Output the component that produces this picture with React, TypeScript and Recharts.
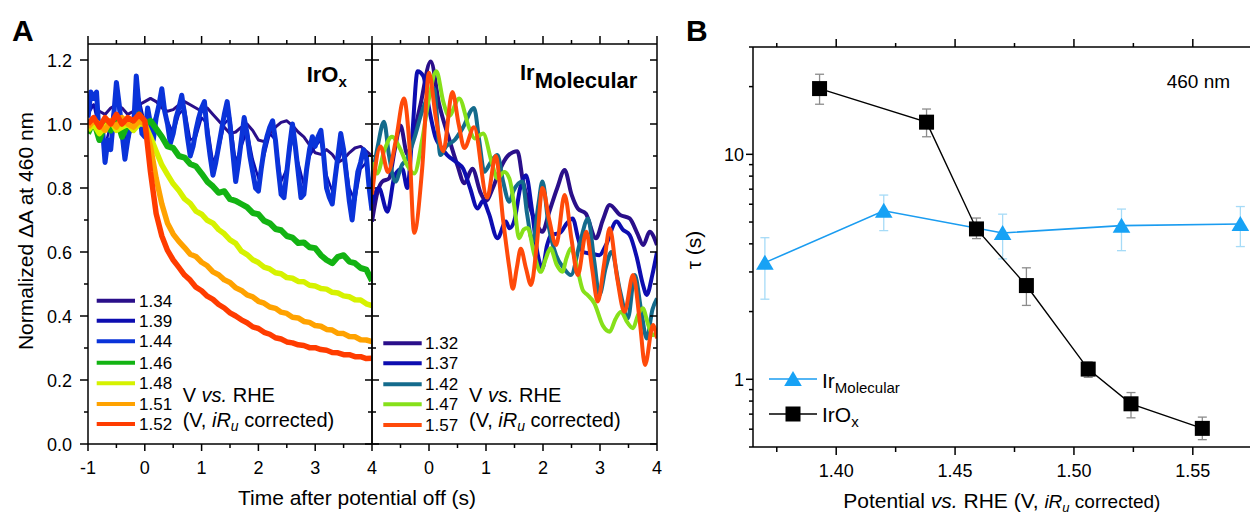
import React from 'react';
import { LineChart, Line, XAxis, YAxis, ScatterChart, Scatter, ErrorBar } from 'recharts';

// ---------- Panel A: time grids (s) ----------
const T10 = [-1, -0.9, -0.8, -0.7, -0.6, -0.5, -0.4, -0.3, -0.2, -0.1, 0, 0.1, 0.2, 0.3, 0.4, 0.5, 0.6, 0.7, 0.8, 0.9, 1, 1.1, 1.2, 1.3, 1.4, 1.5, 1.6, 1.7, 1.8, 1.9, 2, 2.1, 2.2, 2.3, 2.4, 2.5, 2.6, 2.7, 2.8, 2.9, 3, 3.1, 3.2, 3.3, 3.4, 3.5, 3.6, 3.7, 3.8, 3.9, 4];
const T05 = [-1, -0.95, -0.9, -0.85, -0.8, -0.75, -0.7, -0.65, -0.6, -0.55, -0.5, -0.45, -0.4, -0.35, -0.3, -0.25, -0.2, -0.15, -0.1, -0.05, 0, 0.05, 0.1, 0.15, 0.2, 0.25, 0.3, 0.35, 0.4, 0.45, 0.5, 0.55, 0.6, 0.65, 0.7, 0.75, 0.8, 0.85, 0.9, 0.95, 1, 1.05, 1.1, 1.15, 1.2, 1.25, 1.3, 1.35, 1.4, 1.45, 1.5, 1.55, 1.6, 1.65, 1.7, 1.75, 1.8, 1.85, 1.9, 1.95, 2, 2.05, 2.1, 2.15, 2.2, 2.25, 2.3, 2.35, 2.4, 2.45, 2.5, 2.55, 2.6, 2.65, 2.7, 2.75, 2.8, 2.85, 2.9, 2.95, 3, 3.05, 3.1, 3.15, 3.2, 3.25, 3.3, 3.35, 3.4, 3.45, 3.5, 3.55, 3.6, 3.65, 3.7, 3.75, 3.8, 3.85, 3.9, 3.95, 4];

// ---------- IrOx traces (normalized dA at 460 nm) ----------
const irox134 = [1.05, 1.06, 1.04, 1.03, 1.05, 1.06, 1.05, 1.03, 1.04, 1.06, 1.07, 1.08, 1.07, 1.05, 1.04, 1.045, 1.06, 1.07, 1.06, 1.05, 1.04, 1.05, 1.03, 1.01, 0.99, 0.97, 0.975, 0.99, 1.0, 0.98, 0.95, 0.945, 0.97, 0.99, 1.005, 1.01, 0.995, 0.975, 0.96, 0.935, 0.91, 0.905, 0.92, 0.905, 0.88, 0.89, 0.91, 0.925, 0.93, 0.915, 0.9];
const irox139 = [1.03, 1.06, 0.98, 0.93, 1.0, 1.08, 1.0, 0.94, 1.02, 1.08, 1.0, 0.98, 1.03, 1.07, 1.01, 0.97, 1.03, 1.05, 0.95, 0.96, 1.02, 1.0, 0.88, 0.92, 1.0, 1.02, 0.88, 0.93, 0.98, 0.89, 0.83, 0.9, 0.97, 0.95, 0.82, 0.86, 0.96, 0.88, 0.81, 0.9, 0.93, 0.95, 0.84, 0.79, 0.88, 0.93, 0.8, 0.76, 0.86, 0.88, 0.78];
const irox144 = [1.02, 1.1, 1.08, 1.1, 0.95, 1.0, 0.88, 0.95, 0.92, 1.02, 1.13, 1.06, 0.97, 0.89, 0.95, 1.0, 0.98, 1.15, 1.05, 0.97,
  0.96, 1.05, 1.0, 0.95, 1.02, 1.06, 1.11, 1.04, 1.0, 0.94, 0.97, 1.02, 1.05, 1.09, 1.03, 0.96, 0.9, 0.93, 0.98, 1.02,
  1.05, 1.07, 0.97, 0.9, 0.84, 0.88, 0.93, 0.98, 1.03, 1.07, 1.0, 0.91, 0.82, 0.88, 0.95, 1.02, 0.97, 0.9, 0.85, 0.8,
  0.79, 0.86, 0.92, 0.96, 0.99, 1.01, 0.95, 0.86, 0.78, 0.77, 0.85, 0.93, 1.0, 0.93, 0.85, 0.77, 0.78, 0.86, 0.92, 0.96,
  0.93, 0.96, 0.98, 0.9, 0.8, 0.77, 0.75, 0.83, 0.9, 0.97, 0.92, 0.84, 0.76, 0.7, 0.78, 0.85, 0.88, 0.92, 0.9, 0.8,
  0.73];
const irox146 = [0.97, 1.01, 0.95, 1.0, 0.98, 1.02, 0.96, 1.0, 0.99, 1.03, 1.0, 1.01, 0.985, 0.96, 0.93, 0.925, 0.9, 0.895, 0.875, 0.868, 0.845, 0.82, 0.805, 0.785, 0.79, 0.765, 0.76, 0.75, 0.74, 0.722, 0.718, 0.698, 0.69, 0.672, 0.668, 0.65, 0.645, 0.628, 0.63, 0.615, 0.612, 0.59, 0.575, 0.565, 0.585, 0.59, 0.57, 0.565, 0.55, 0.545, 0.51];
const irox148 = [0.98, 1.0, 0.97, 0.99, 1.01, 0.98, 0.99, 1.0, 0.98, 1.0, 1.0, 0.96, 0.915, 0.872, 0.842, 0.813, 0.792, 0.766, 0.752, 0.728, 0.718, 0.699, 0.69, 0.67, 0.657, 0.638, 0.627, 0.603, 0.592, 0.576, 0.567, 0.553, 0.547, 0.535, 0.532, 0.52, 0.518, 0.508, 0.507, 0.496, 0.494, 0.486, 0.484, 0.474, 0.472, 0.463, 0.46, 0.451, 0.45, 0.438, 0.432];
const irox151 = [0.99, 1.01, 1.0, 0.98, 1.01, 0.99, 1.02, 1.0, 0.99, 1.01, 1.0, 0.93, 0.83, 0.75, 0.69, 0.656, 0.633, 0.614, 0.593, 0.586, 0.568, 0.557, 0.538, 0.529, 0.513, 0.505, 0.488, 0.48, 0.466, 0.46, 0.446, 0.44, 0.428, 0.424, 0.412, 0.408, 0.396, 0.394, 0.383, 0.38, 0.37, 0.368, 0.358, 0.356, 0.346, 0.345, 0.336, 0.335, 0.326, 0.325, 0.32];
const irox152 = [1.0, 1.02, 0.99, 1.02, 1.0, 1.03, 1.0, 1.02, 1.01, 1.03, 1.01, 0.85, 0.72, 0.65, 0.605, 0.575, 0.552, 0.528, 0.512, 0.49, 0.479, 0.462, 0.452, 0.436, 0.425, 0.41, 0.4, 0.388, 0.379, 0.366, 0.361, 0.349, 0.343, 0.332, 0.328, 0.319, 0.316, 0.31, 0.308, 0.301, 0.301, 0.295, 0.293, 0.286, 0.285, 0.279, 0.279, 0.273, 0.273, 0.267, 0.268];

// ---------- Ir molecular traces, [t, value] ----------
const mol132: [number, number][] = [[-1.0, 0.695], [-0.9, 0.79], [-0.82, 0.82], [-0.7, 0.83], [-0.6, 0.92], [-0.5, 0.995], [-0.38, 0.905], [-0.28, 0.96], [-0.15, 1.06], [0.03, 1.195], [0.18, 1.06], [0.35, 0.955], [0.5, 0.87], [0.62, 0.815], [0.76, 0.86], [0.91, 0.783], [1.0, 0.76], [1.12, 0.8], [1.25, 0.86], [1.38, 0.9], [1.55, 0.915], [1.65, 0.82], [1.76, 0.747], [1.88, 0.69], [1.99, 0.663], [2.1, 0.72], [2.25, 0.8], [2.38, 0.856], [2.5, 0.78], [2.61, 0.736], [2.75, 0.72], [2.93, 0.643], [3.05, 0.7], [3.17, 0.747], [3.35, 0.716], [3.52, 0.705], [3.65, 0.66], [3.76, 0.622], [3.87, 0.663], [4.0, 0.622]];
const mol137: [number, number][] = [[-1.0, 0.75], [-0.88, 0.8], [-0.73, 0.726], [-0.6, 0.84], [-0.47, 0.86], [-0.38, 0.8], [-0.3, 0.95], [-0.2, 1.165], [-0.1, 1.15], [0.0, 1.05], [0.12, 0.955], [0.2, 0.93], [0.32, 0.903], [0.47, 0.882], [0.6, 0.86], [0.72, 0.8], [0.85, 0.736], [0.95, 0.76], [1.05, 0.72], [1.2, 0.643], [1.35, 0.695], [1.41, 0.674], [1.5, 0.7], [1.6, 0.8], [1.7, 0.84], [1.8, 0.74], [1.9, 0.6], [1.99, 0.549], [2.07, 0.62], [2.14, 0.653], [2.3, 0.66], [2.42, 0.69], [2.52, 0.705], [2.62, 0.64], [2.7, 0.6], [2.85, 0.595], [2.99, 0.59], [3.1, 0.62], [3.29, 0.695], [3.4, 0.67], [3.52, 0.653], [3.65, 0.58], [3.75, 0.5], [3.82, 0.466], [3.92, 0.53], [4.0, 0.6]];
const mol142: [number, number][] = [[-1.0, 0.83], [-0.9, 0.93], [-0.79, 1.007], [-0.7, 0.9], [-0.59, 0.82], [-0.48, 0.87], [-0.38, 0.893], [-0.25, 0.96], [-0.12, 1.04], [0.09, 1.11], [0.2, 0.903], [0.3, 0.93], [0.45, 0.95], [0.59, 0.987], [0.79, 1.05], [0.88, 0.95], [0.97, 0.851], [1.08, 0.88], [1.2, 0.903], [1.3, 0.82], [1.41, 0.757], [1.48, 0.79], [1.64, 0.82], [1.72, 0.72], [1.82, 0.632], [1.92, 0.75], [1.99, 0.82], [2.1, 0.68], [2.23, 0.59], [2.36, 0.55], [2.49, 0.528], [2.65, 0.63], [2.79, 0.705], [2.9, 0.57], [2.99, 0.466], [3.1, 0.55], [3.2, 0.6], [3.35, 0.48], [3.49, 0.393], [3.61, 0.528], [3.72, 0.42], [3.82, 0.33], [3.92, 0.42], [4.0, 0.455]];
const mol147: [number, number][] = [[-1.0, 0.88], [-0.91, 0.845], [-0.78, 0.92], [-0.65, 0.96], [-0.5, 0.92], [-0.38, 0.87], [-0.26, 0.845], [-0.12, 0.95], [0.0, 1.08], [0.13, 1.165], [0.25, 1.07], [0.35, 1.025], [0.53, 1.08], [0.7, 0.99], [0.8, 0.955], [0.95, 0.97], [1.1, 0.88], [1.2, 0.83], [1.32, 0.85], [1.41, 0.83], [1.5, 0.74], [1.58, 0.643], [1.66, 0.67], [1.73, 0.675], [1.85, 0.59], [1.96, 0.538], [2.05, 0.58], [2.13, 0.612], [2.24, 0.56], [2.34, 0.538], [2.41, 0.58], [2.49, 0.612], [2.6, 0.55], [2.7, 0.48], [2.78, 0.466], [2.9, 0.44], [3.05, 0.37], [3.17, 0.351], [3.27, 0.39], [3.37, 0.413], [3.48, 0.38], [3.58, 0.362], [3.66, 0.4], [3.75, 0.424], [3.85, 0.37], [3.93, 0.34], [4.0, 0.35]];
const mol157: [number, number][] = [[-1.0, 0.78], [-0.85, 0.93], [-0.72, 0.85], [-0.58, 0.95], [-0.44, 1.08], [-0.35, 0.95], [-0.26, 0.66], [-0.12, 0.86], [0.0, 1.16], [0.12, 1.02], [0.25, 0.915], [0.41, 1.1], [0.52, 1.0], [0.62, 0.925], [0.79, 0.99], [1.02, 0.77], [1.17, 0.9], [1.3, 0.7], [1.41, 0.55], [1.47, 0.485], [1.54, 0.55], [1.61, 0.61], [1.7, 0.55], [1.79, 0.497], [1.89, 0.62], [1.99, 0.8], [2.11, 0.7], [2.23, 0.622], [2.38, 0.778], [2.5, 0.64], [2.61, 0.528], [2.76, 0.663], [2.86, 0.55], [2.96, 0.445], [3.07, 0.56], [3.17, 0.674], [3.3, 0.52], [3.43, 0.413], [3.58, 0.528], [3.7, 0.38], [3.79, 0.247], [3.93, 0.372], [4.0, 0.33]];

// ---------- Panel B: tau vs potential ----------
const oxV = [1.393, 1.438, 1.459, 1.48, 1.506, 1.524, 1.554];
const oxTau = [19.6, 13.9, 4.66, 2.61, 1.11, 0.778, 0.605];
const oxLo = [16.7, 11.97, 4.22, 2.13, 1.02, 0.674, 0.539];
const oxHi = [22.7, 15.9, 5.21, 3.13, 1.196, 0.873, 0.679];
const molV = [1.37, 1.42, 1.47, 1.52, 1.57];
const molTau = [3.3, 5.61, 4.47, 4.82, 4.9];
const molLo = [2.27, 4.58, 3.43, 3.73, 3.89];
const molHi = [4.26, 6.59, 5.42, 5.71, 5.86];

const FONT = '"Liberation Sans", Arial, Helvetica, sans-serif';

const leftSeries = [
  { name: '1.34', color: '#2a0f8a', t: T10, v: irox134, w: 3 },
  { name: '1.39', color: '#0d0db0', t: T10, v: irox139, w: 2.5 },
  { name: '1.44', color: '#0a33d9', t: T05, v: irox144, w: 5 },
  { name: '1.46', color: '#13b313', t: T10, v: irox146, w: 6 },
  { name: '1.48', color: '#d6f200', t: T10, v: irox148, w: 5.5 },
  { name: '1.51', color: '#ffa200', t: T10, v: irox151, w: 5.5 },
  { name: '1.52', color: '#ff3c00', t: T10, v: irox152, w: 5.5 },
];
const rightSeries = [
  { name: '1.32', color: '#2a0f8a', pts: mol132 },
  { name: '1.37', color: '#0d0db0', pts: mol137 },
  { name: '1.42', color: '#146b8c', pts: mol142 },
  { name: '1.47', color: '#86e01a', pts: mol147 },
  { name: '1.57', color: '#ff4a0a', pts: mol157 },
];

type Side = 'bottom' | 'top' | 'left' | 'right';
interface TickOpts {
  side: Side;
  isMajor: (v: number) => boolean;
  out: [number, number]; // outward length (major, minor); negative = inward
  inn?: [number, number]; // extension on the inner side
  label?: (v: number) => string;
  gap?: number;
}

// draws ticks manually so majors and minors get different lengths
const tickFn = (o: TickOpts) => (p: any) => {
  const { x, y, payload } = p;
  const v = payload.value;
  const m = o.isMajor(v);
  const out = m ? o.out[0] : o.out[1];
  const inn = o.inn ? (m ? o.inn[0] : o.inn[1]) : 0;
  const txt = m && o.label ? o.label(v) : null;
  const gap = o.gap ?? 0;
  let ln = null;
  let tx = null;
  if (o.side === 'bottom') {
    ln = <line x1={x} x2={x} y1={y - inn} y2={y + out} />;
    if (txt) tx = <text x={x} y={y + gap} textAnchor="middle">{txt}</text>;
  } else if (o.side === 'top') {
    ln = <line x1={x} x2={x} y1={y + inn} y2={y - out} />;
  } else if (o.side === 'left') {
    ln = <line x1={x + inn} x2={x - out} y1={y} y2={y} />;
    if (txt) tx = <text x={x - gap} y={y + 6.5} textAnchor="end">{txt}</text>;
  } else {
    ln = <line x1={x - inn} x2={x + out} y1={y} y2={y} />;
  }
  return (
    <g>
      <g stroke="#000" strokeWidth={1.5}>{ln}</g>
      {tx && (
        <g fill="#000" stroke="none" fontSize={18} fontFamily={FONT}>
          {tx}
        </g>
      )}
    </g>
  );
};

const isInt = (v: number) => Math.abs(v - Math.round(v)) < 1e-6;
const isFifth = (v: number) => Math.abs(v * 5 - Math.round(v * 5)) < 1e-6;
const isTwentieth = (v: number) => Math.abs(v * 20 - Math.round(v * 20)) < 1e-6;

const axisLine = { stroke: '#000', strokeWidth: 1.5 };
const yTicksA = [0, 0.1, 0.2, 0.3, 0.4, 0.5, 0.6, 0.7, 0.8, 0.9, 1.0, 1.1, 1.2];
const xTicksA1 = [-1, -0.5, 0, 0.5, 1, 1.5, 2, 2.5, 3, 3.5, 4];
const xTicksA2 = [-0.5, 0, 0.5, 1, 1.5, 2, 2.5, 3, 3.5, 4];
const xTicksB = [1.375, 1.4, 1.425, 1.45, 1.475, 1.5, 1.525, 1.55, 1.575];
const yTicksB = [0.5, 0.6, 0.7, 0.8, 0.9, 1, 2, 3, 4, 5, 6, 7, 8, 9, 10, 20, 30];

const squareShape = (p: any) => <rect x={p.cx - 7.5} y={p.cy - 7.5} width={15} height={15} fill="#000" />;
const triShape = (p: any) => (
  <polygon points={`${p.cx},${p.cy - 8} ${p.cx - 8.8},${p.cy + 7} ${p.cx + 8.8},${p.cy + 7}`} fill="#17a2f5" />
);

function PanelALeft() {
  return (
    <LineChart width={380} height={514} margin={{ top: 36, right: 0, bottom: 40, left: 0 }}>
      <XAxis xAxisId="b" dataKey="t" type="number" domain={[-1, 4]} ticks={xTicksA1} interval={0} height={30}
        tickSize={0} tickMargin={0} tickLine={false} axisLine={axisLine} allowDataOverflow
        tick={tickFn({ side: 'bottom', isMajor: isInt, out: [7, 4], label: (v) => String(v), gap: 30 })} />
      <XAxis xAxisId="t" orientation="top" dataKey="t" type="number" domain={[-1, 4]} ticks={xTicksA1} interval={0} height={8}
        tickSize={0} tickMargin={0} tickLine={false} axisLine={axisLine} allowDataOverflow
        tick={tickFn({ side: 'top', isMajor: isInt, out: [8, 4] })} />
      <YAxis yAxisId="l" type="number" domain={[0, 1.25]} ticks={yTicksA} interval={0} width={88}
        tickSize={0} tickMargin={0} tickLine={false} axisLine={axisLine} allowDataOverflow
        tick={tickFn({ side: 'left', isMajor: isFifth, out: [8, 4], label: (v) => v.toFixed(1), gap: 16 })} />
      <YAxis yAxisId="r" orientation="right" type="number" domain={[0, 1.25]} ticks={yTicksA} interval={0} width={8}
        tickSize={0} tickMargin={0} tickLine={false} axisLine={axisLine} allowDataOverflow
        tick={tickFn({ side: 'right', isMajor: isFifth, out: [7, 4] })} />
      {leftSeries.map((s) => (
        <Line key={s.name} xAxisId="b" yAxisId="l" data={s.t.map((t, i) => ({ t, v: s.v[i] }))} dataKey="v"
          type="linear" stroke={s.color} strokeWidth={s.w} strokeLinejoin="round" dot={false} activeDot={false}
          isAnimationActive={false} />
      ))}
    </LineChart>
  );
}

function PanelARight() {
  return (
    <LineChart width={301} height={514} margin={{ top: 36, right: 0, bottom: 40, left: 0 }}>
      <XAxis xAxisId="b" dataKey="t" type="number" domain={[-1, 4]} ticks={xTicksA2} interval={0} height={30}
        tickSize={0} tickMargin={0} tickLine={false} axisLine={axisLine} allowDataOverflow
        tick={tickFn({ side: 'bottom', isMajor: isInt, out: [7, 4], label: (v) => String(v), gap: 30 })} />
      <XAxis xAxisId="t" orientation="top" dataKey="t" type="number" domain={[-1, 4]} ticks={xTicksA2} interval={0} height={8}
        tickSize={0} tickMargin={0} tickLine={false} axisLine={axisLine} allowDataOverflow
        tick={tickFn({ side: 'top', isMajor: isInt, out: [8, 4] })} />
      <YAxis yAxisId="l" type="number" domain={[0, 1.25]} ticks={yTicksA} interval={0} width={8}
        tickSize={0} tickMargin={0} tickLine={false} axisLine={axisLine} allowDataOverflow
        tick={tickFn({ side: 'left', isMajor: isFifth, out: [7, 4] })} />
      <YAxis yAxisId="r" orientation="right" type="number" domain={[0, 1.25]} ticks={yTicksA} interval={0} width={8}
        tickSize={0} tickMargin={0} tickLine={false} axisLine={axisLine} allowDataOverflow
        tick={tickFn({ side: 'right', isMajor: isFifth, out: [-7, -4] })} />
      {rightSeries.map((s) => (
        <Line key={s.name} xAxisId="b" yAxisId="l" data={s.pts.map(([t, v]) => ({ t, v }))} dataKey="v"
          type="monotone" stroke={s.color} strokeWidth={4} strokeLinejoin="round" dot={false} activeDot={false}
          isAnimationActive={false} />
      ))}
    </LineChart>
  );
}

function PanelB() {
  const oxData = oxV.map((x, i) => ({ x, y: oxTau[i], err: [oxTau[i] - oxLo[i], oxHi[i] - oxTau[i]] }));
  const molData = molV.map((x, i) => ({ x, y: molTau[i], err: [molTau[i] - molLo[i], molHi[i] - molTau[i]] }));
  return (
    <ScatterChart width={577} height={514} margin={{ top: 39, right: 0, bottom: 37, left: 0 }}>
      <XAxis xAxisId="b" dataKey="x" type="number" domain={[1.365, 1.577]} ticks={xTicksB} interval={0} height={30}
        tickSize={0} tickMargin={0} tickLine={false} axisLine={axisLine} allowDataOverflow
        tick={tickFn({ side: 'bottom', isMajor: isTwentieth, out: [8, 5], label: (v) => v.toFixed(2), gap: 30 })} />
      <XAxis xAxisId="t" orientation="top" dataKey="x" type="number" domain={[1.365, 1.577]} ticks={xTicksB} interval={0} height={8}
        tickSize={0} tickMargin={0} tickLine={false} axisLine={axisLine} allowDataOverflow
        tick={tickFn({ side: 'top', isMajor: isTwentieth, out: [8, 4] })} />
      <YAxis yAxisId="l" dataKey="y" type="number" scale="log" domain={[0.5, 30]} ticks={yTicksB} interval={0} width={73}
        tickSize={0} tickMargin={0} tickLine={false} axisLine={axisLine} allowDataOverflow
        tick={tickFn({ side: 'left', isMajor: (v) => v === 1 || v === 10, out: [7, 4], label: (v) => String(v), gap: 9 })} />
      <Scatter xAxisId="b" yAxisId="l" data={molData} dataKey="y" shape={triShape} isAnimationActive={false}
        line={{ stroke: '#1a9cf0', strokeWidth: 1.6 }} lineType="joint">
        <ErrorBar dataKey="err" direction="y" width={4.5} stroke="#a6dbf7" strokeWidth={1.3} isAnimationActive={false} />
      </Scatter>
      <Scatter xAxisId="b" yAxisId="l" data={oxData} dataKey="y" shape={squareShape} isAnimationActive={false}
        line={{ stroke: '#000', strokeWidth: 1.4 }} lineType="joint">
        <ErrorBar dataKey="err" direction="y" width={4.5} stroke="#8c8c8c" strokeWidth={1.3} isAnimationActive={false} />
      </Scatter>
    </ScatterChart>
  );
}

function Overlay() {
  const rowsL = [300.7, 320.7, 341.3, 362.7, 383.3, 404, 424];
  const rowsR = [343.3, 363.3, 384.3, 404.3, 425];
  return (
    <svg width={1250} height={514} style={{ position: 'absolute', left: 0, top: 0, pointerEvents: 'none' }}
      fontFamily={FONT} fill="#000">
      <text x={12} y={41} fontSize={30} fontWeight="bold">A</text>
      <text x={686} y={41} fontSize={30} fontWeight="bold">B</text>

      <text x={306.7} y={81.7} fontSize={22} fontWeight="bold">IrO<tspan fontSize={15} dy={5}>x</tspan></text>
      <text x={520} y={80} fontSize={22} fontWeight="bold">Ir<tspan dy={7.5}>Molecular</tspan></text>

      <text transform="translate(33,231) rotate(-90)" textAnchor="middle" fontSize={21}>Normalized ΔA at 460 nm</text>
      <text x={357} y={505} textAnchor="middle" fontSize={21}>Time after potential off (s)</text>

      {leftSeries.map((s, i) => (
        <g key={s.name}>
          <line x1={96.7} x2={135} y1={rowsL[i]} y2={rowsL[i]} stroke={s.color} strokeWidth={4} />
          <text x={139} y={rowsL[i] + 6} fontSize={17}>{s.name}</text>
        </g>
      ))}
      <text x={182.7} y={402} fontSize={20}>V <tspan fontStyle="italic">vs.</tspan> RHE</text>
      <text x={182.7} y={427} fontSize={20}>(V, <tspan fontStyle="italic">iR</tspan><tspan fontStyle="italic" fontSize={14} dy={4}>u</tspan><tspan dy={-4}> corrected)</tspan></text>

      {rightSeries.map((s, i) => (
        <g key={s.name}>
          <line x1={383.3} x2={421.7} y1={rowsR[i]} y2={rowsR[i]} stroke={s.color} strokeWidth={4} />
          <text x={425} y={rowsR[i] + 6} fontSize={17}>{s.name}</text>
        </g>
      ))}
      <text x={469} y={402} fontSize={20}>V <tspan fontStyle="italic">vs.</tspan> RHE</text>
      <text x={469} y={427} fontSize={20}>(V, <tspan fontStyle="italic">iR</tspan><tspan fontStyle="italic" fontSize={14} dy={4}>u</tspan><tspan dy={-4}> corrected)</tspan></text>

      <text x={1166.7} y={88.3} fontSize={19}>460 nm</text>
      <text transform="translate(701,250) rotate(-90)" textAnchor="middle" fontSize={21}>τ (s)</text>
      <text x={1001.8} y={508} textAnchor="middle" fontSize={21}>Potential <tspan fontStyle="italic">vs.</tspan> RHE (V, <tspan fontStyle="italic" fontSize={19}>iR</tspan><tspan fontStyle="italic" fontSize={13} dy={4}>u</tspan><tspan fontSize={19} dy={-4}> corrected)</tspan></text>

      <line x1={769} x2={817} y1={379} y2={379} stroke="#1a9cf0" strokeWidth={1.6} />
      <polygon points="793,371 784.2,386 801.8,386" fill="#17a2f5" />
      <text x={822} y={388} fontSize={21}>Ir<tspan fontSize={15} dy={5}>Molecular</tspan></text>
      <line x1={769} x2={817} y1={414} y2={414} stroke="#000" strokeWidth={1.4} />
      <rect x={785.5} y={406.5} width={15} height={15} fill="#000" />
      <text x={822} y={422} fontSize={21}>IrO<tspan fontSize={15} dy={5}>x</tspan></text>
    </svg>
  );
}

export default function App() {
  return (
    <div style={{ position: 'absolute', left: 0, top: 0, width: 1250, height: 514, overflow: 'hidden', background: '#fff', fontFamily: FONT }}>
      <div style={{ position: 'absolute', left: 0, top: 0 }}><PanelALeft /></div>
      <div style={{ position: 'absolute', left: 364, top: 0 }}><PanelARight /></div>
      <div style={{ position: 'absolute', left: 680, top: 0 }}><PanelB /></div>
      <Overlay />
    </div>
  );
}
